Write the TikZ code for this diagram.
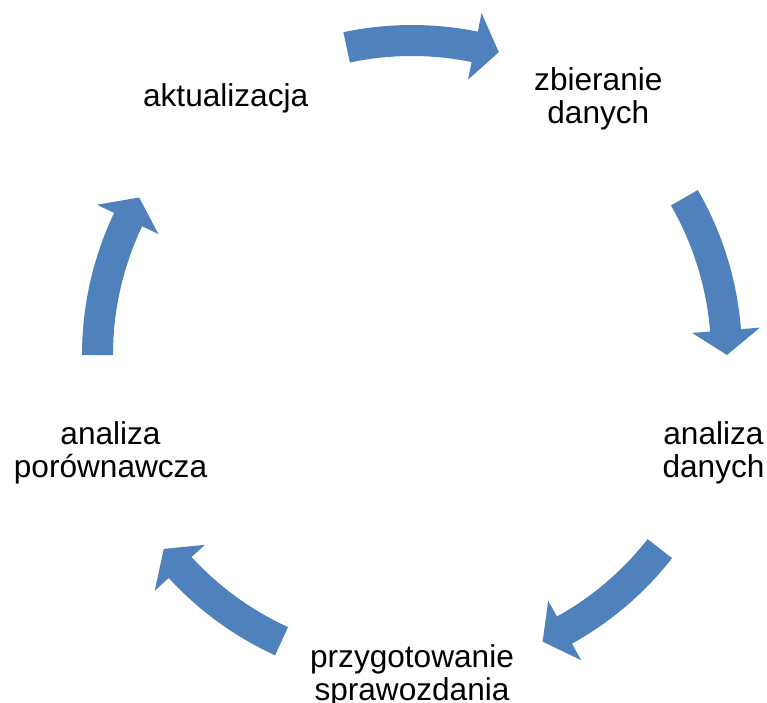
\documentclass[tikz,border=0pt]{standalone}
\usepackage{fontspec}
\setmainfont{Liberation Sans}
\usepackage{xcolor}
\usepackage{tikz}
\definecolor{cycleblue}{HTML}{4F81BD}
\definecolor{text}{HTML}{000000}
\tikzset{
  cyclearrow/.style={fill=cycleblue, draw=none},
  lbl/.style={text=text, align=center, inner sep=0pt, font=\fontsize{31.6}{33}\selectfont}
}

\begin{document}
\begin{tikzpicture}[x=1pt, y=1pt]
  \useasboundingbox (-412,-347) rectangle (355,355);
  \coordinate (O) at (0,0);

  % block arrows: tail angle / tip angle
  \foreach \s/\e in {102/74, 30/0, -38/-65.5, -114.5/-142, 180/150} {
    \fill[cyclearrow] (\s:330) arc[start angle=\s, end angle=\e+4.5, radius=330]
      -- (\e+4.5:349) -- (\e:315) -- (\e+4.5:281) -- (\e+4.5:299)
      arc[start angle=\e+4.5, end angle=\s, radius=299] -- cycle;
  }

  \node[lbl] (akt) at (126:317) {aktualizacja};
  \node[lbl] (zbi) at (54:317) {zbieranie\\danych};
  \node[lbl] (ana) at (-18:317) {analiza\\danych};
  \node[lbl] (prz) at (-90:321) {przygotowanie\\sprawozdania};
  \node[lbl] (por) at (198:317) {analiza\\porównawcza};
\end{tikzpicture}
\end{document}
